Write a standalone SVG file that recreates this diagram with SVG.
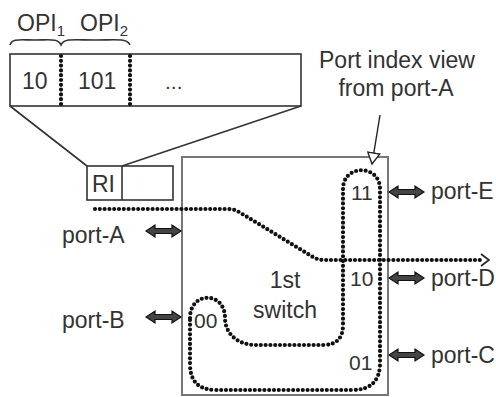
<svg xmlns="http://www.w3.org/2000/svg" width="496" height="397" viewBox="0 0 496 397">
<defs>
<style>
text{font-family:"Liberation Sans",Arial,sans-serif;fill:#333}
.big{font-size:23px}
.mid{font-size:21px}
.sub{font-size:15px}
.ln{fill:none;stroke:#333;stroke-width:1.6}
.dot{fill:none;stroke:#111;stroke-width:4.2;stroke-linecap:round;stroke-dasharray:0 4.8}
.dbl{fill:#444;stroke:#111;stroke-width:1.2;stroke-linejoin:miter}
</style>
<marker id="tri" markerWidth="14" markerHeight="14" refX="12" refY="7" orient="auto" markerUnits="userSpaceOnUse">
<path d="M1,1 L12,7 L1,13 Z" fill="#fff" stroke="#222" stroke-width="1.4"/>
</marker>
</defs>

<g id="header">
<rect class="ln" x="10" y="54" width="291" height="52"/>
<path class="dot" d="M61,56 L61,106 M130,56 L130,106"/>
<path class="ln" d="M10,45 C12,38 20,40 35,40 C50,40 58,38 61,45 C64,38 72,40 95,40 C118,40 127,38 130,45"/>
<text class="big" x="17" y="31">OPI<tspan class="sub" dy="5">1</tspan></text>
<text class="big" x="80" y="31">OPI<tspan class="sub" dy="5">2</tspan></text>
<text class="big" x="22" y="89">10</text>
<text class="big" x="78" y="89">101</text>
<text class="mid" x="165" y="89">...</text>
</g>

<g id="zoom-lines">
<path class="ln" d="M10,106 L87,166 M301,106 L122,166"/>
</g>

<g id="ri">
<rect class="ln" x="87" y="166" width="86" height="34"/>
<line class="ln" x1="122" y1="166" x2="122" y2="200"/>
<text class="big" x="92" y="192">RI</text>
</g>

<g id="switch">
<rect x="182" y="157" width="206" height="238" fill="#fff" stroke="#777" stroke-width="2"/>
<text class="big" x="285" y="288" text-anchor="middle">1st</text>
<text class="big" x="285" y="318" text-anchor="middle">switch</text>
<text class="mid" x="351" y="200">11</text>
<text class="mid" x="350" y="286">10</text>
<text class="mid" x="349" y="370">01</text>
<text class="mid" x="194" y="328">00</text>
</g>

<g id="label">
<text class="big" x="397" y="68" text-anchor="middle">Port index view</text>
<text class="big" x="396" y="96" text-anchor="middle">from port-A</text>
</g>

<g id="ports">
<g id="port-A">
<polygon class="dbl" points="146,231 155,225 155,228.5 172,228.5 172,225 181,231 172,237 172,233.5 155,233.5 155,237"/>
<text class="big" x="62" y="243">port-A</text>
</g>
<g id="port-B">
<polygon class="dbl" points="146,317 155,311 155,314.5 172,314.5 172,311 181,317 172,323 172,319.5 155,319.5 155,323"/>
<text class="big" x="62" y="328">port-B</text>
</g>
<g id="port-E">
<polygon class="dbl" points="389,192 398,186 398,189.5 415,189.5 415,186 424,192 415,198 415,194.5 398,194.5 398,198"/>
<text class="big" x="431" y="199">port-E</text>
</g>
<g id="port-D">
<polygon class="dbl" points="389,278 398,272 398,275.5 415,275.5 415,272 424,278 415,284 415,280.5 398,280.5 398,284"/>
<text class="big" x="431" y="286">port-D</text>
</g>
<g id="port-C">
<polygon class="dbl" points="389,355 398,349 398,352.5 415,352.5 415,349 424,355 415,361 415,357.5 398,357.5 398,361"/>
<text class="big" x="431" y="363">port-C</text>
</g>
</g>

<g id="connectors">
<path class="dot" d="M95,209 L228,209 Q234,209 239,212 L313,257 Q318,260 324,260 L484,260"/>
<path d="M481,254 L489,260 L481,266" fill="none" stroke="#222" stroke-width="1.6"/>
<path class="dot" d="M190,318 C190,291 225,291 225,318 C225,334 238,345 256,345 L323,345 Q343,345 343,325 L343,189 C343,164 380,164 380,189 L380,363 Q380,390 352,390 L216,390 Q190,390 190,364 Z"/>
<line x1="380" y1="115" x2="372" y2="164" stroke="#222" stroke-width="1.4" marker-end="url(#tri)"/>
</g>
</svg>
